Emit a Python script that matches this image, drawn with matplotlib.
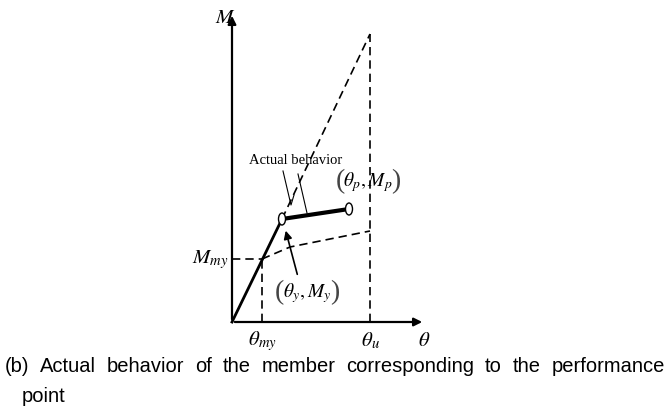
import matplotlib.pyplot as plt
from matplotlib.patches import Ellipse

plt.rcParams['mathtext.fontset'] = 'stix'
plt.rcParams['font.family'] = ['Liberation Serif', 'DejaVu Serif']

# key points of the moment-rotation diagram (drawing units)
theta_my, theta_y, theta_p, theta_u = 30, 50, 117, 138
M_my, M_y, M_p, M_top = 63, 103, 113, 288

# elastic line (solid) and its dashed extension
elastic_theta = [0, theta_y]
elastic_M = [0, M_y]
ext_theta = [theta_y, theta_u]
ext_M = [M_y, M_top]

# lower dashed curve from the My point to theta_u
lower_theta = [theta_my, 58, theta_u]
lower_M = [M_my, 75, 91]

# actual behavior (thick)
act_theta = [theta_y, theta_p]
act_M = [M_y, M_p]

caption1 = '(b) Actual behavior of the member corresponding to the performance'
caption2 = 'point'

fig = plt.figure(figsize=(6.72, 4.14), dpi=100)
ax = fig.add_axes([0, 0, 1, 1])
ax.set_xlim(-232, 440)
ax.set_ylim(-91, 323)
ax.axis('off')

dash = (0, (5, 3))

# axes with arrows
ax.annotate('', xy=(0, 309), xytext=(0, 0),
            arrowprops=dict(arrowstyle='-|>', lw=1.6, color='black', mutation_scale=12))
ax.annotate('', xy=(193, 0), xytext=(0, 0),
            arrowprops=dict(arrowstyle='-|>', lw=1.6, color='black', mutation_scale=12))

# dashed guide lines
ax.plot(ext_theta, ext_M, color='black', lw=1.2, ls=dash)
ax.plot([theta_u, theta_u], [0, M_top], color='black', lw=1.2, ls=dash)
ax.plot([theta_my, theta_my], [0, M_my], color='black', lw=1.2, ls=dash)
ax.plot([0, theta_my], [M_my, M_my], color='black', lw=1.2, ls=dash)
ax.plot(lower_theta, lower_M, color='black', lw=1.2, ls=dash)

# solid lines
ax.plot(elastic_theta, elastic_M, color='black', lw=2)
ax.plot(act_theta, act_M, color='black', lw=3)

for t, m in [(theta_y, M_y), (theta_p, M_p)]:
    ax.add_patch(Ellipse((t, m), 7, 12, facecolor='white', edgecolor='black', lw=1, zorder=5))

# leader lines for "Actual behavior"
ax.plot([51, 59, 62], [151, 117, 127], color='black', lw=0.8)
ax.plot([66, 75], [148, 109], color='black', lw=0.8)

# arrow to the yield point
ax.annotate('', xy=(53, 94), xytext=(66, 45),
            arrowprops=dict(arrowstyle='-|>', lw=1.2, color='black', mutation_scale=12))

# labels
ax.text(-7, 305, r'$M$', fontsize=15, ha='center', va='center')
ax.text(-3, 63, r'$M_{my}$', fontsize=15, ha='right', va='center')
ax.text(theta_my, -18, r'$\theta_{my}$', fontsize=15, ha='center', va='center')
ax.text(theta_u, -18, r'$\theta_{u}$', fontsize=15, ha='center', va='center')
ax.text(192, -19, r'$\theta$', fontsize=15, ha='center', va='center')

for cx, cy, inner in [(75, 30, r'$\theta_{y}, M_{y}$'), (136, 141, r'$\theta_{p}, M_{p}$')]:
    ax.text(cx, cy, inner, fontsize=14, ha='center', va='center')
    ax.text(cx - 28, cy, '(', fontsize=20, ha='center', va='center', color='#444444')
    ax.text(cx + 28, cy, ')', fontsize=20, ha='center', va='center', color='#444444')

ax.text(64, 162, 'Actual behavior', fontsize=10.5, ha='center', va='center')

# caption, first line justified across the width
renderer = fig.canvas.get_renderer()
words = caption1.split()
left, right = -227, 433
tmp = [ax.text(0, -44, w, fontsize=14.5, family='Liberation Sans', va='center') for w in words]
widths = [t.get_window_extent(renderer).width for t in tmp]
gap = (right - left - sum(widths)) / (len(words) - 1)
x = left
for t, w in zip(tmp, widths):
    t.set_x(x)
    x += w + gap
ax.text(-210, -74, caption2, fontsize=14.5, family='Liberation Sans', ha='left', va='center')

fig.savefig('out.png', dpi=100)
